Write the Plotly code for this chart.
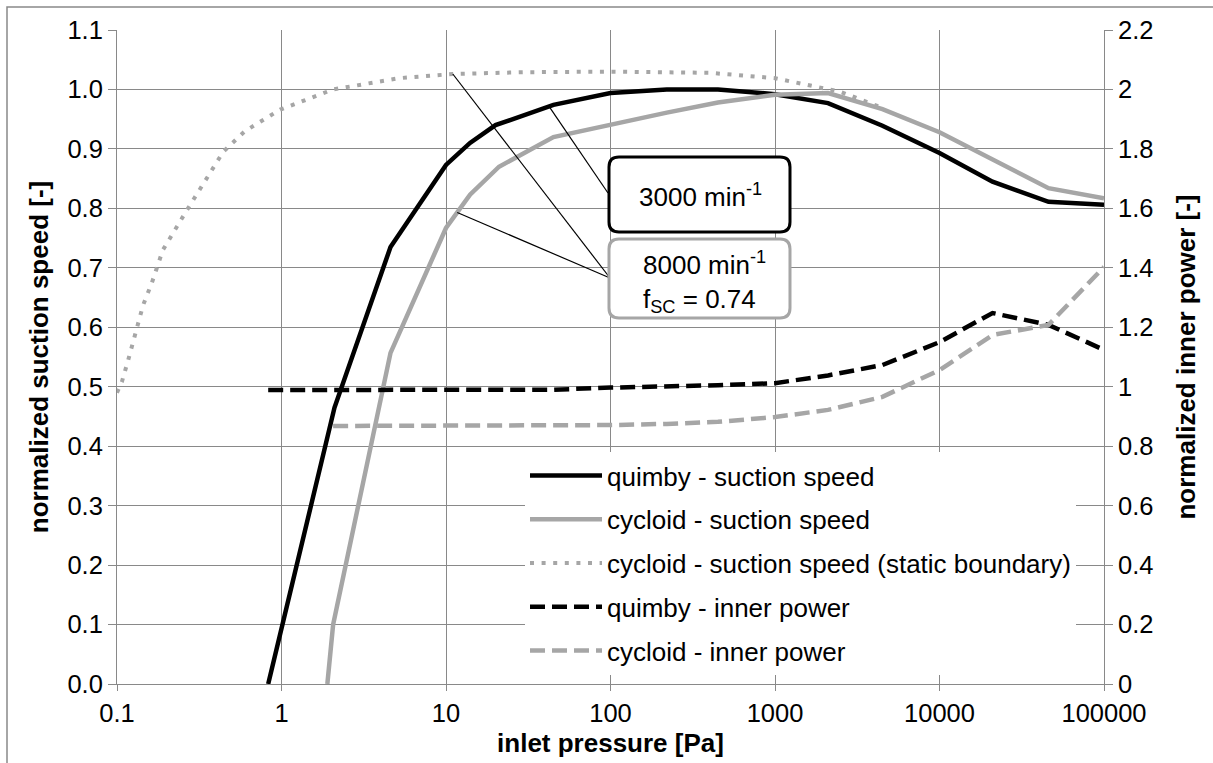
import numpy as np
import plotly.graph_objects as go

# ---------------- data ----------------
quimby_x = [0.83, 2.1, 4.6, 10, 14, 20, 45, 100, 220, 450, 1000, 2100, 4500, 10000, 21000, 46000, 100000]
quimby_speed = [0.0, 0.465, 0.735, 0.873, 0.910, 0.940, 0.974, 0.994, 1.0, 1.0, 0.992, 0.977, 0.939, 0.893, 0.845, 0.811, 0.806]
quimby_power = [0.989, 0.989, 0.989, 0.989, 0.989, 0.989, 0.990, 0.997, 1.000, 1.005, 1.012, 1.038, 1.073, 1.150, 1.248, 1.208, 1.124]

cycloid_x = [1.9, 2.06, 4.6, 10, 14, 21, 45, 100, 220, 450, 1000, 2100, 4500, 10000, 21000, 46000, 100000]
cycloid_speed = [0.0, 0.10, 0.557, 0.767, 0.823, 0.870, 0.920, 0.941, 0.961, 0.978, 0.991, 0.994, 0.967, 0.928, 0.882, 0.834, 0.817]
cycloid_power_x = cycloid_x[1:]
cycloid_power = [0.868, 0.868, 0.868, 0.868, 0.868, 0.869, 0.871, 0.875, 0.882, 0.898, 0.922, 0.966, 1.056, 1.174, 1.208, 1.403]

static_x = [0.1, 0.107, 0.117, 0.132, 0.144, 0.163, 0.19, 0.266, 0.35, 0.442, 0.6, 0.98, 2.06, 5.2, 11, 30, 100, 400, 1000, 2500, 4500]
static_speed = [0.49, 0.508, 0.545, 0.60, 0.637, 0.675, 0.73, 0.797, 0.85, 0.895, 0.93, 0.966, 1.0, 1.019, 1.026, 1.029, 1.03, 1.028, 1.019, 0.996, 0.969]

x_tickvals = [0.1, 1, 10, 100, 1000, 10000, 100000]
x_ticktext = ["0.1", "1", "10", "100", "1000", "10000", "100000"]

# ---------------- style ----------------
BLACK = "#000000"
GREY = "#a6a6a6"
GRID = "#898989"
FONT = "Liberation Sans, Arial, sans-serif"
W, H = 1213, 763
PL, PR, PT, PB = 117, 1104, 30, 684  # plot area in pixels
XR = [-1, 5]
YR = [0, 1.1]


def pxx(px):
    return (px - PL) / (PR - PL)


def pxy(py):
    return (PB - py) / (PB - PT)


def paper_to_data(px, py):
    fx, fy = pxx(px), pxy(py)
    return 10 ** (XR[0] + (XR[1] - XR[0]) * fx), YR[0] + (YR[1] - YR[0]) * fy


def on_curve(xs, ys, xq):
    return float(np.interp(np.log10(xq), np.log10(xs), ys))


def rbox(x0, y0, x1, y1, r):
    P = lambda a, b: f"{pxx(a):.5f},{pxy(b):.5f}"
    return (f"M{P(x0 + r, y0)} L{P(x1 - r, y0)} Q{P(x1, y0)} {P(x1, y0 + r)} "
            f"L{P(x1, y1 - r)} Q{P(x1, y1)} {P(x1 - r, y1)} L{P(x0 + r, y1)} "
            f"Q{P(x0, y1)} {P(x0, y1 - r)} L{P(x0, y0 + r)} Q{P(x0, y0)} {P(x0 + r, y0)} Z")


fig = go.Figure()

fig.add_trace(go.Scatter(x=quimby_x, y=quimby_speed, mode="lines", name="quimby - suction speed",
                         legendgroup="a", line=dict(color=BLACK, width=4.5)))
fig.add_trace(go.Scatter(x=cycloid_x, y=cycloid_speed, mode="lines", name="cycloid - suction speed",
                         legendgroup="b", line=dict(color=GREY, width=4.5)))
fig.add_trace(go.Scatter(x=static_x, y=static_speed, mode="lines",
                         name="cycloid - suction speed (static boundary)", legendgroup="c",
                         line=dict(color=GREY, width=4, dash="4px,7.6px")))
fig.add_trace(go.Scatter(x=quimby_x, y=quimby_power, mode="lines", name="quimby - inner power",
                         legendgroup="d", yaxis="y2", line=dict(color=BLACK, width=4.5, dash="15px,7px")))
fig.add_trace(go.Scatter(x=cycloid_power_x, y=cycloid_power, mode="lines", name="cycloid - inner power",
                         legendgroup="e", yaxis="y2", line=dict(color=GREY, width=4.5, dash="15px,7px")))

# leader lines from curves to the callout boxes
b1 = paper_to_data(608, 193)
b2 = paper_to_data(610, 278)
leaders = [
    (42.3, on_curve(quimby_x, quimby_speed, 42.3), b1),
    (11, on_curve(static_x, static_speed, 11), b2),
    (11.7, on_curve(cycloid_x, cycloid_speed, 11.7), b2),
]
for (lx, ly, (bx, by)) in leaders:
    fig.add_trace(go.Scatter(x=[lx, bx], y=[ly, by], mode="lines", showlegend=False,
                             hoverinfo="skip", line=dict(color=BLACK, width=1.2)))

shapes = [
    dict(type="rect", xref="paper", yref="paper", x0=pxx(7), y0=pxy(7), x1=pxx(1260), y1=pxy(800),
         line=dict(color=GRID, width=1.5), layer="below"),
    dict(type="path", xref="paper", yref="paper", path=rbox(609, 157, 790, 232, 10),
         line=dict(color=BLACK, width=3), fillcolor="white", layer="above"),
    dict(type="path", xref="paper", yref="paper", path=rbox(609, 239, 790, 318, 10),
         line=dict(color=GREY, width=3), fillcolor="white", layer="above"),
]

annotations = [
    dict(xref="paper", yref="paper", x=pxx(700), y=pxy(195), text="3000 min<sup>-1</sup>",
         showarrow=False, xanchor="center", yanchor="middle", font=dict(size=26, color=BLACK, family=FONT)),
    dict(xref="paper", yref="paper", x=pxx(641), y=pxy(282),
         text="8000 min<sup>-1</sup><br>f<sub>SC</sub> = 0.74", align="left",
         showarrow=False, xanchor="left", yanchor="middle", font=dict(size=26, color=BLACK, family=FONT)),
]

tickfont = dict(size=25.5, color=BLACK, family=FONT)
titlefont = dict(size=26, color=BLACK, family=FONT)

fig.update_layout(
    width=W, height=H, autosize=False,
    margin=dict(l=PL, r=W - PR, t=PT, b=H - PB, pad=0, autoexpand=False),
    paper_bgcolor="white", plot_bgcolor="white",
    font=dict(family=FONT, color=BLACK, size=26),
    shapes=shapes, annotations=annotations,
    showlegend=True,
    legend=dict(x=pxx(525), y=pxy(452), xanchor="left", yanchor="top",
                bgcolor="white", borderwidth=0, font=dict(size=26, color=BLACK, family=FONT),
                itemwidth=72, tracegroupgap=7, traceorder="grouped"),
    xaxis=dict(type="log", range=XR, tickvals=x_tickvals, ticktext=x_ticktext, automargin=False,
               showgrid=True, gridcolor=GRID, gridwidth=1, showline=True, linecolor=GRID, linewidth=1,
               ticks="outside", ticklen=6, tickcolor=GRID, tickfont=tickfont, zeroline=False,
               title=dict(text="<b>inlet pressure [Pa]</b>", font=titlefont, standoff=8)),
    yaxis=dict(range=YR, dtick=0.1, tick0=0, tickformat=".1f", showgrid=True, gridcolor=GRID,
               gridwidth=1, showline=True, linecolor=GRID, linewidth=1, ticks="outside", ticklen=8,
               tickcolor=GRID, tickfont=tickfont, zeroline=False, automargin=False,
               title=dict(text="<b>normalized suction speed [-]</b>", font=titlefont, standoff=11)),
    yaxis2=dict(range=[0, 2.2], dtick=0.2, tick0=0, overlaying="y", side="right", showgrid=False,
                showline=True, linecolor=GRID, linewidth=1, ticks="outside", ticklen=8, tickcolor=GRID,
                tickfont=tickfont, zeroline=False, automargin=False,
                title=dict(text="<b>normalized inner power [-]</b>", font=titlefont, standoff=24)),
)

fig.write_html("out.html")
